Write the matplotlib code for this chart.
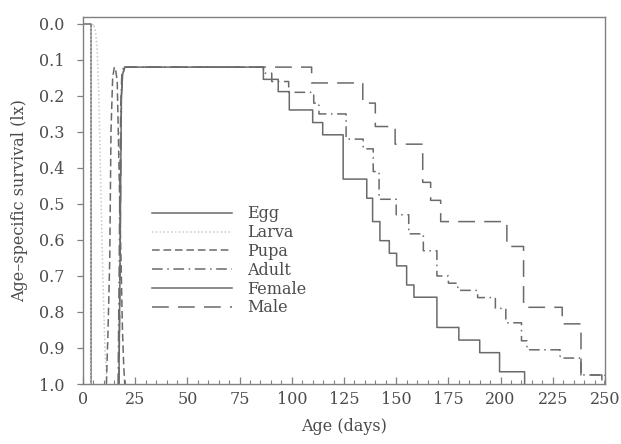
import matplotlib
matplotlib.use("Agg")
import matplotlib.pyplot as plt
from matplotlib.ticker import MultipleLocator

# values are read on the chart's own y axis (0.0 at the top, 1.0 at the bottom)
egg_days = [0.0, 3.6, 3.6]
egg_vals = [0.0, 0.0, 1.0]

larva_days = [3.6, 3.8, 5.0, 6.0, 6.8, 7.6, 8.5, 9.5, 10.5, 11.5]
larva_vals = [1.0, 0.01, 0.0, 0.02, 0.07, 0.2, 0.45, 0.7, 0.9, 1.0]

pupa_days = [11.2, 12.0, 12.8, 13.4, 14.2, 15.0, 15.6, 16.4, 16.9, 17.6, 18.2, 18.9, 19.5, 20.0]
pupa_vals = [1.0, 0.85, 0.655, 0.30, 0.15, 0.12, 0.125, 0.16, 0.30, 0.50, 0.655, 0.85, 0.95, 1.0]

adult_rise_days = [16.8, 17.3, 17.7, 18.1, 18.6, 19.4]
adult_rise_vals = [1.0, 0.7, 0.4, 0.22, 0.14, 0.12]
female_rise_days = [17.2, 17.7, 18.1, 18.4, 19.0, 20.0]
female_rise_vals = [1.0, 0.7, 0.4, 0.2, 0.14, 0.12]

# step parts: level vals[i] holds from days[i] to days[i+1]
female_days = [20.0, 86.4, 93.5, 98.8, 110.0, 114.8, 124.6, 135.9, 138.7, 142.2,
               146.7, 150.2, 155.0, 158.5, 169.5, 180.0, 190.0, 199.5, 211.5]
female_vals = [0.12, 0.154, 0.188, 0.239, 0.274, 0.308, 0.431, 0.484, 0.549, 0.602,
               0.637, 0.672, 0.725, 0.759, 0.843, 0.878, 0.913, 0.966, 1.0]
female_end = 211.5

adult_days = [19.4, 86.4, 90.4, 98.5, 110.5, 113.0, 126.0, 134.2, 139.0, 141.8,
              150.0, 156.0, 163.0, 169.5, 175.0, 179.5, 189.0, 197.5, 202.5, 210.0,
              212.6, 228.5, 238.5, 250.0]
adult_vals = [0.12, 0.137, 0.16, 0.19, 0.22, 0.25, 0.32, 0.347, 0.41, 0.487,
              0.53, 0.583, 0.63, 0.70, 0.72, 0.74, 0.76, 0.79, 0.83, 0.88,
              0.905, 0.928, 0.975, 1.0]
adult_end = 250.0

male_days = [20.0, 109.5, 134.0, 140.0, 149.5, 162.7, 166.5, 171.3, 203.0, 211.0,
             229.5, 238.5, 248.5]
male_vals = [0.12, 0.164, 0.22, 0.285, 0.334, 0.44, 0.49, 0.549, 0.618, 0.787,
             0.833, 0.975, 1.0]
male_end = 250.0

x_ticks = [0, 25, 50, 75, 100, 125, 150, 175, 200, 225, 250]
y_ticks = [0.0, 0.1, 0.2, 0.3, 0.4, 0.5, 0.6, 0.7, 0.8, 0.9, 1.0]


def steps(days, vals, end):
    xs, ys = [], []
    for i, (d, v) in enumerate(zip(days, vals)):
        nxt = days[i + 1] if i + 1 < len(days) else end
        xs += [d, nxt]
        ys += [v, v]
    return xs, ys


plt.rcParams['font.family'] = ['DejaVu Serif']
LINE = '#6a6a6a'
TXT = '#4c4c4c'

fig = plt.figure(figsize=(6.21, 4.44), dpi=100)
ax = fig.add_axes([83 / 621, 1 - 384 / 444, (605 - 83) / 621, (384 - 16.7) / 444])

lw = 1.1
ax.plot(egg_days, egg_vals, color=LINE, lw=lw, ls='-', label='Egg')
ax.plot(larva_days, larva_vals, color='#c8c8c8', lw=lw, ls=(0, (1, 1.5)), label='Larva')
ax.plot(pupa_days, pupa_vals, color=LINE, lw=lw, ls=(0, (5, 2.5)), label='Pupa')

ax_x, ax_y = steps(adult_days, adult_vals, adult_end)
ax.plot(adult_rise_days + ax_x, adult_rise_vals + ax_y, color=LINE, lw=lw,
        ls=(0, (7, 3, 1, 3)), label='Adult')
fx, fy = steps(female_days, female_vals, female_end)
ax.plot(female_rise_days + fx, female_rise_vals + fy, color=LINE, lw=lw, ls='-',
        label='Female', zorder=3)
mx, my = steps(male_days, male_vals, male_end)
ax.plot(female_rise_days + mx, female_rise_vals + my, color=LINE, lw=lw,
        ls=(0, (11, 6)), label='Male')

ax.set_xlim(0, 250)
ax.set_ylim(1.0, -0.02)
ax.set_xticks(x_ticks)
ax.xaxis.set_minor_locator(MultipleLocator(5))
ax.set_yticks(y_ticks)
ax.set_yticklabels([f'{v:.1f}' for v in y_ticks])

for s in ax.spines.values():
    s.set_color('#808080')
    s.set_linewidth(1.0)

ax.tick_params(axis='y', which='major', direction='out', length=4.5, width=0.9,
               color='#808080', labelsize=11.5, labelcolor=TXT, pad=9)
ax.tick_params(axis='x', which='major', direction='in', length=5, width=0.9,
               color='#808080', labelsize=11.5, labelcolor=TXT, pad=5)
ax.tick_params(axis='x', which='minor', direction='in', length=3, width=0.8,
               color='#808080')

ax.set_xlabel('Age (days)', fontsize=11.5, color=TXT, labelpad=7)
ax.set_ylabel('Age–specific survival (lx)', fontsize=11.5, color=TXT, labelpad=8)

leg = ax.legend(loc='upper left', bbox_to_anchor=(0.1316, 0.486), frameon=False,
                fontsize=11.5, handlelength=5.0, handletextpad=1.0,
                labelspacing=0.11, borderpad=0, borderaxespad=0)
for t in leg.get_texts():
    t.set_color(TXT)

fig.savefig('out.png', dpi=100)
